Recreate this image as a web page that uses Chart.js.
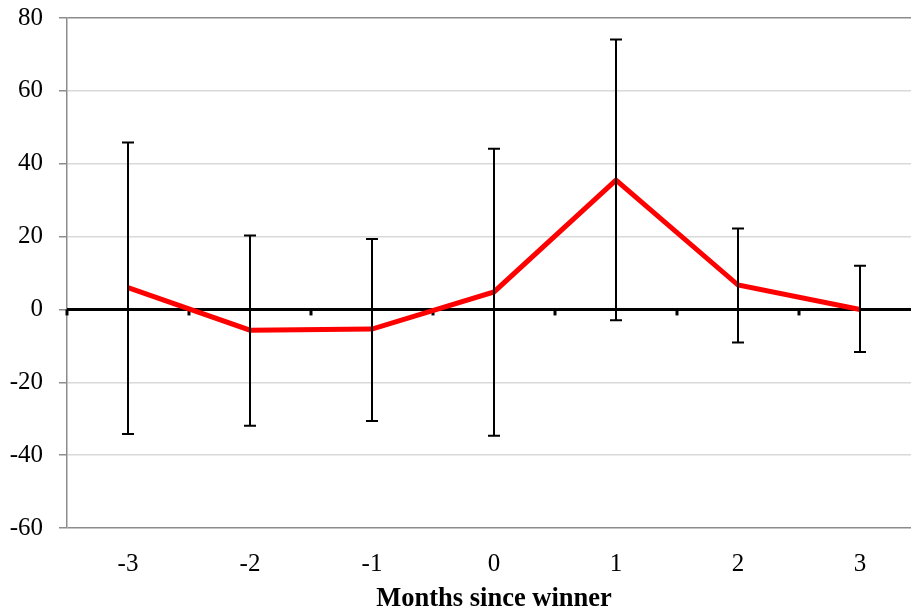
<!DOCTYPE html>
<html>
<head>
<meta charset="utf-8">
<script src="https://cdn.jsdelivr.net/npm/chart.js@4"></script>
<style>
  html, body { margin: 0; padding: 0; overflow: hidden; background: #fff; }
  #wrap { position: relative; width: 930px; height: 610px; }
</style>
</head>
<body>
<div id="wrap"><canvas id="monthsChart"></canvas></div>
<script>
// months relative to the winning month, mean effect and its error band
const months = ['-3', '-2', '-1', '0', '1', '2', '3'];
const meanEffect = [6.0, -5.7, -5.4, 4.8, 35.5, 6.7, 0.0];
const upperBound = [45.8, 20.3, 19.3, 44.1, 74.1, 22.2, 12.0];
const lowerBound = [-34.2, -31.9, -30.6, -34.7, -3.0, -9.1, -11.7];
const yTicks = [-60, -40, -20, 0, 20, 40, 60, 80];

const FONT = '"Liberation Serif", "Times New Roman", serif';

// thick horizontal axis at zero, with small tick marks between categories
const zeroAxis = {
    id: 'zeroAxis',
    beforeDatasetsDraw(chart) {
        const { ctx, chartArea, scales: { x, y } } = chart;
        const y0 = y.getPixelForValue(0);
        const half = (x.getPixelForValue(1) - x.getPixelForValue(0)) / 2;
        ctx.save();
        ctx.strokeStyle = '#000';
        ctx.lineWidth = 3;
        ctx.beginPath();
        ctx.moveTo(chartArea.left, y0);
        ctx.lineTo(chartArea.right, y0);
        ctx.stroke();
        ctx.fillStyle = '#000';
        for (let i = 0; i < months.length; i++) {
            const bx = x.getPixelForValue(i) - half;
            ctx.fillRect(bx - 1.5, y0, 3, 6);
        }
        ctx.restore();
    }
};

// vertical error bars with caps
const errorBars = {
    id: 'errorBars',
    afterDatasetsDraw(chart) {
        const { ctx, scales: { x, y } } = chart;
        ctx.save();
        ctx.strokeStyle = '#000';
        ctx.lineWidth = 2;
        for (let i = 0; i < months.length; i++) {
            const px = Math.round(x.getPixelForValue(i));
            const top = y.getPixelForValue(upperBound[i]);
            const bot = y.getPixelForValue(lowerBound[i]);
            ctx.beginPath();
            ctx.moveTo(px, top);
            ctx.lineTo(px, bot);
            ctx.moveTo(px - 6, top);
            ctx.lineTo(px + 6, top);
            ctx.moveTo(px - 6, bot);
            ctx.lineTo(px + 6, bot);
            ctx.stroke();
        }
        ctx.restore();
    }
};

new Chart(document.getElementById('monthsChart'), {
    type: 'line',
    data: {
        labels: months,
        datasets: [{
            data: meanEffect,
            borderColor: '#ff0000',
            borderWidth: 5,
            pointRadius: 0,
            tension: 0,
            fill: false
        }]
    },
    options: {
        responsive: true,
        maintainAspectRatio: false,
        animation: false,
        layout: { padding: { top: 18, right: 9, bottom: 0, left: 0 } },
        plugins: {
            legend: { display: false },
            tooltip: { enabled: false }
        },
        scales: {
            x: {
                offset: true,
                grid: { display: false, drawTicks: false },
                border: { display: false },
                ticks: {
                    color: '#000',
                    font: { family: FONT, size: 25 },
                    padding: 21,
                    maxRotation: 0
                },
                title: {
                    display: true,
                    text: 'Months since winner',
                    color: '#000',
                    font: { family: FONT, size: 26.5, weight: 'bold' },
                    padding: { top: 0, bottom: -5 }
                },
                afterFit(scale) { scale.height = 82; }
            },
            y: {
                min: -60,
                max: 80,
                afterBuildTicks(scale) {
                    scale.ticks = yTicks.map(v => ({ value: v }));
                },
                grid: {
                    color(ctx) {
                        const v = ctx.tick && ctx.tick.value;
                        if (v === 80 || v === -60) return '#8c8c8c';
                        if (v === 0) return 'rgba(0,0,0,0)';
                        return '#d9d9d9';
                    },
                    lineWidth: 1.5,
                    tickLength: 8,
                    tickColor: '#8c8c8c'
                },
                border: { color: '#8c8c8c', width: 1.5 },
                ticks: {
                    color: '#000',
                    font: { family: FONT, size: 25 },
                    padding: 16
                },
                afterFit(scale) {
                    scale.width = 67;
                    scale.paddingTop = 0;
                    scale.paddingBottom = 0;
                }
            }
        }
    },
    plugins: [zeroAxis, errorBars]
});
</script>
</body>
</html>
